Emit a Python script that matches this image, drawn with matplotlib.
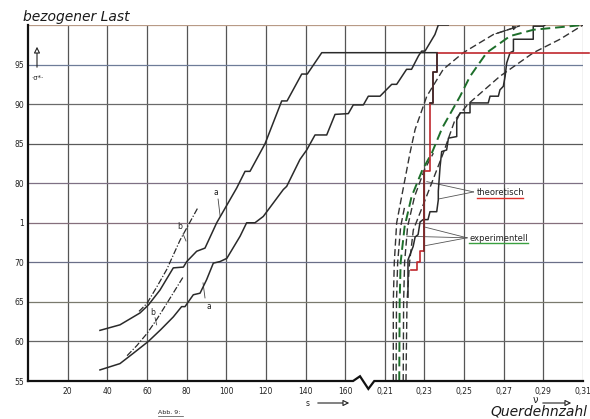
import numpy as np
import matplotlib
matplotlib.use("Agg")
import matplotlib.pyplot as plt

# left family: bezogene Last over s
a_upper_s = [36.3, 46.4, 56.5, 60.7, 66.6, 73.3, 78.4, 80.1, 85.1, 89.3, 95.2, 105.3, 109.5, 112.0,
             119.6, 128.0, 130.7, 138.1, 140.9, 148.2]
a_upper_y = [61.4, 62.1, 63.6, 64.6, 66.5, 69.3, 69.4, 70.1, 71.4, 71.8, 75.0, 79.4, 81.5, 81.5,
             85.0, 90.4, 90.4, 93.8, 93.8, 96.5]
a_lower_s = [36.3, 46.4, 53.1, 60.7, 67.0, 73.3, 77.5, 79.2, 83.4, 86.8, 90.1, 93.5, 96.9, 100.3,
             107.0, 110.3, 114.5, 118.7, 128.8, 130.5, 137.2, 140.6, 144.8, 150.7, 154.9, 161.6,
             164.1, 169.2, 171.7, 177.6, 183.5, 186.0, 191.0, 193.5, 197.0, 198.6, 200.3, 205.3,
             207.0, 212.0]
a_lower_y = [56.4, 57.2, 58.5, 60.0, 61.5, 63.1, 64.4, 64.4, 65.9, 66.1, 67.8, 69.9, 70.1, 70.5,
             73.3, 75.0, 75.0, 75.8, 79.2, 79.6, 83.0, 84.2, 86.1, 86.1, 88.7, 88.8,
             89.9, 89.9, 91.0, 91.0, 92.5, 92.5, 94.4, 94.4, 96.1, 96.7, 96.7, 98.8,
             100.0, 100.0]
b_upper_s = [56.0, 60.0, 65.0, 70.0, 76.7, 85.9]
b_upper_y = [63.8, 64.8, 66.9, 69.1, 72.8, 77.0]
b_lower_s = [50.0, 55.0, 60.0, 65.0, 71.0, 78.4]
b_lower_y = [58.2, 59.5, 61.0, 62.8, 65.2, 68.2]

# right family: bezogene Last over Querdehnzahl
dash_a_q = [0.2143, 0.2143, 0.2148, 0.2160, 0.2185, 0.2227, 0.2253, 0.2312, 0.2395, 0.2496, 0.2648, 0.2782]
dash_a_y = [55, 65, 70, 75, 78.3, 83.8, 86.8, 91.0, 94.4, 96.5, 98.8, 99.9]
dash_a2_q = [0.2157, 0.2159, 0.2165, 0.2180, 0.2200]
dash_a2_y = [55, 65, 70, 74.5, 77.0]
green_q = [0.2173, 0.2175, 0.2180, 0.2200, 0.2235, 0.2290, 0.2337, 0.2390, 0.2480, 0.2530, 0.2614,
           0.2732, 0.2850, 0.3100]
green_y = [55, 65, 70, 74.5, 78.3, 81.7, 83.8, 87.0, 91.0, 93.5, 96.5, 98.6, 99.4, 100.0]
dash_b_q = [0.2193, 0.2195, 0.2200, 0.2215, 0.2250, 0.2300, 0.2345]
dash_b_y = [55, 65, 70, 74.5, 78.3, 81.7, 83.8]
dash_c_q = [0.2207, 0.2212, 0.2225, 0.2244, 0.2310, 0.2395, 0.2454, 0.2520, 0.2680, 0.2850, 0.2984, 0.3100]
dash_c_y = [55, 65, 70, 74.1, 78.3, 83.8, 88.0, 90.0, 93.5, 96.5, 98.2, 100.0]
red_q = [0.2232, 0.2263, 0.2263, 0.2278, 0.2278, 0.2298, 0.2298, 0.2328, 0.2328, 0.2343, 0.2343,
         0.2364, 0.2364, 0.3130]
red_y = [69.0, 69.0, 70.1, 70.1, 71.4, 71.4, 81.5, 81.5, 90.2, 90.2, 94.0, 94.0, 96.5, 96.5]
step_q = [0.2217, 0.2217, 0.2243, 0.2253, 0.2268, 0.2278, 0.2293, 0.2318, 0.2328, 0.2362, 0.2370,
          0.2370, 0.2379, 0.2387, 0.2412, 0.2421, 0.2463, 0.2463, 0.2480, 0.2530, 0.2530, 0.2622,
          0.2631, 0.2673, 0.2681, 0.2698, 0.2707, 0.2715, 0.2732, 0.2749, 0.2749, 0.2849, 0.2849,
          0.2900, 0.2908]
step_y = [65.6, 70.3, 72.0, 73.2, 73.5, 75.1, 75.4, 75.4, 76.4, 76.4, 77.9,
          79.0, 82.1, 84.0, 84.2, 85.7, 85.9, 88.0, 88.9, 88.9, 90.15, 90.15,
          91.0, 91.0, 91.8, 92.25, 93.5, 95.2, 96.5, 96.7, 98.2, 98.2, 99.85,
          99.85, 100.0]

s_ticks = [20, 40, 60, 80, 100, 120, 140, 160]
q_ticks = [0.21, 0.23, 0.25, 0.27, 0.29, 0.31]
y_ticks = [55, 60, 65, 70, 75, 80, 85, 90, 95]
y_tick_labels = ["55", "60", "65", "70", "1", "80", "85", "90", "95"]


def qpos(q):
    # Querdehnzahl scale sits right of the s scale on the same grid
    return 180 + (np.asarray(q) - 0.21) * 1000


W, H = 590, 419
dark = "#2a2a2a"

fig = plt.figure(figsize=(W / 100, H / 100), dpi=100, facecolor="white")
ax = fig.add_axes([28 / W, 1 - 381 / H, 555 / W, 356 / H])
ax.set_xlim(0, 280)
ax.set_ylim(55, 100)

# grid (scan gives the lines a slight colour cast)
for gx in range(20, 281, 20):
    ax.axvline(gx, color="#555555" if gx < 280 else "#9a9a9a", lw=0.9, zorder=1)
h_colors = {60: "#666666", 65: "#7a7a6e", 70: "#6a6f88", 75: "#856f7c", 80: "#7e7084",
            85: "#5a5a5a", 90: "#6a6a6a", 95: "#6e7c98", 100: "#b89a86"}
for gy, c in h_colors.items():
    ax.axhline(gy, color=c, lw=0.9, zorder=1)

for side in ["top", "right", "bottom"]:
    ax.spines[side].set_visible(False)
ax.spines["left"].set_linewidth(1.6)
ax.spines["left"].set_color("#111111")

# bottom axis with break between the two scales
ax.plot([0, 164, 167.5, 171.7, 174.7, 280], [55, 55, 55.6, 54.0, 55, 55],
        color="#111111", lw=1.6, clip_on=False, zorder=5, solid_joinstyle="miter")

ax.set_xticks(s_ticks + list(qpos(q_ticks)),
              [str(t) for t in s_ticks] + [f"{t:.2f}".replace(".", ",") for t in q_ticks])
ax.set_yticks(y_ticks, y_tick_labels)
ax.tick_params(length=0, labelsize=5.5, colors="#222222")
ax.tick_params(axis="x", pad=4)
ax.tick_params(axis="y", pad=3)

# left curves
ax.plot(a_upper_s + [float(qpos(red_q[-2]))], a_upper_y + [a_upper_y[-1]], color=dark, lw=1.1, zorder=3)
ax.plot(a_lower_s, a_lower_y, color=dark, lw=1.1, zorder=3)
ax.plot(b_upper_s, b_upper_y, color=dark, lw=0.9, ls=(0, (5, 1.5, 1, 1.5)), zorder=3)
ax.plot(b_lower_s, b_lower_y, color=dark, lw=0.9, ls=(0, (5, 1.5, 1, 1.5)), zorder=3)

# right curves
dash = (0, (5, 2.5))
ax.plot(qpos(dash_a_q), dash_a_y, color="#333333", lw=1.0, ls=dash, zorder=3)
ax.plot(qpos(dash_a2_q), dash_a2_y, color="#333333", lw=1.0, ls=dash, zorder=3)
ax.plot(qpos(dash_b_q), dash_b_y, color="#333333", lw=1.0, ls=dash, zorder=3)
ax.plot(qpos(dash_c_q), dash_c_y, color="#333333", lw=1.0, ls=dash, zorder=3)
ax.plot(qpos(green_q), green_y, color="#1d6e2a", lw=1.4, ls=dash, zorder=4)
ax.annotate("", xy=(qpos(dash_a_q[-1]), dash_a_y[-1]), xytext=(qpos(dash_a_q[-2]), dash_a_y[-2]),
            arrowprops=dict(arrowstyle="-|>", color="#333333", lw=0.8, mutation_scale=6))
ax.plot(qpos(red_q), red_y, color="#c0282d", lw=1.2, zorder=4, clip_on=False)
ax.plot(qpos(red_q[5:7]), red_y[5:7], color="#6e2a2a", lw=1.1, zorder=4)
ax.plot(qpos(red_q[8:13]), red_y[8:13], color=dark, lw=1.1, zorder=4)
ax.plot(qpos(step_q), step_y, color=dark, lw=1.1, zorder=3)

# curve labels a / b
lab = dict(fontsize=5.5, color="#222222", ha="center", va="center")
ax.text(94.9, 78.8, "a", **lab)
ax.plot([95.9, 96.9], [78.0, 75.9], color="#444444", lw=0.6)
ax.text(91.3, 64.4, "a", **lab)
ax.plot([89.3, 88.3], [65.5, 67.4], color="#444444", lw=0.6)
ax.text(76.7, 74.5, "b", **lab)
ax.plot([78.2, 79.7], [73.6, 72.7], color="#444444", lw=0.6)
ax.text(62.9, 63.6, "b", **lab)
ax.plot([64.1, 64.9], [63.0, 62.1], color="#444444", lw=0.6)

# theoretisch / experimentell
ax.text(226.3, 78.8, "theoretisch", fontsize=6, color="#222222", va="center")
ax.plot([226.3, 249.5], [78.15, 78.15], color="#e0302a", lw=1.0)
for ex, ey in [(201.2, 80.2), (207.0, 78.0)]:
    ax.plot([224.8, ex], [78.9, ey], color="#555555", lw=0.6)
ax.text(222.5, 73.0, "experimentell", fontsize=6, color="#222222", va="center")
ax.plot([222.5, 252.0], [72.4, 72.4], color="#3aa040", lw=1.0)
for ex, ey in [(199.5, 74.5), (191.1, 73.3), (200.3, 72.1)]:
    ax.plot([221.5, ex], [73.1, ey], color="#555555", lw=0.6)

# figure texts
fig.text(23 / W, 1 - 17 / H, "bezogener Last", style="italic", fontsize=10, va="center", color="#1a1a1a")
arr = dict(arrowstyle="-|>", fc="white", ec="#222222", lw=0.8, mutation_scale=9)
ax.annotate("", xy=(37 / W, 1 - 44 / H), xytext=(37 / W, 1 - 70 / H),
            xycoords="figure fraction", textcoords="figure fraction", arrowprops=arr)
fig.text(37 / W, 1 - 78 / H, "·σ*·", fontsize=5, ha="center", va="center", color="#222222")

fig.text(308 / W, 1 - 403 / H, "s", fontsize=5.5, ha="center", va="center", color="#222222")
ax.annotate("", xy=(352 / W, 1 - 403 / H), xytext=(315 / W, 1 - 403 / H),
            xycoords="figure fraction", textcoords="figure fraction", arrowprops=arr)
fig.text(535 / W, 1 - 400 / H, "ν", fontsize=7, ha="center", va="center", color="#222222")
ax.annotate("", xy=(574 / W, 1 - 403 / H), xytext=(540 / W, 1 - 403 / H),
            xycoords="figure fraction", textcoords="figure fraction", arrowprops=arr)
fig.text(587 / W, 1 - 411 / H, "Querdehnzahl", style="italic", fontsize=10, ha="right", va="center",
         color="#1a1a1a")
fig.text(158 / W, 1 - 412 / H, "Abb. 9:", fontsize=4.5, va="center", color="#222222")
fig.add_artist(plt.Line2D([158 / W, 183 / W], [1 - 416 / H, 1 - 416 / H], color="#444444", lw=0.5))

fig.savefig("out.png", dpi=100, facecolor="white")
